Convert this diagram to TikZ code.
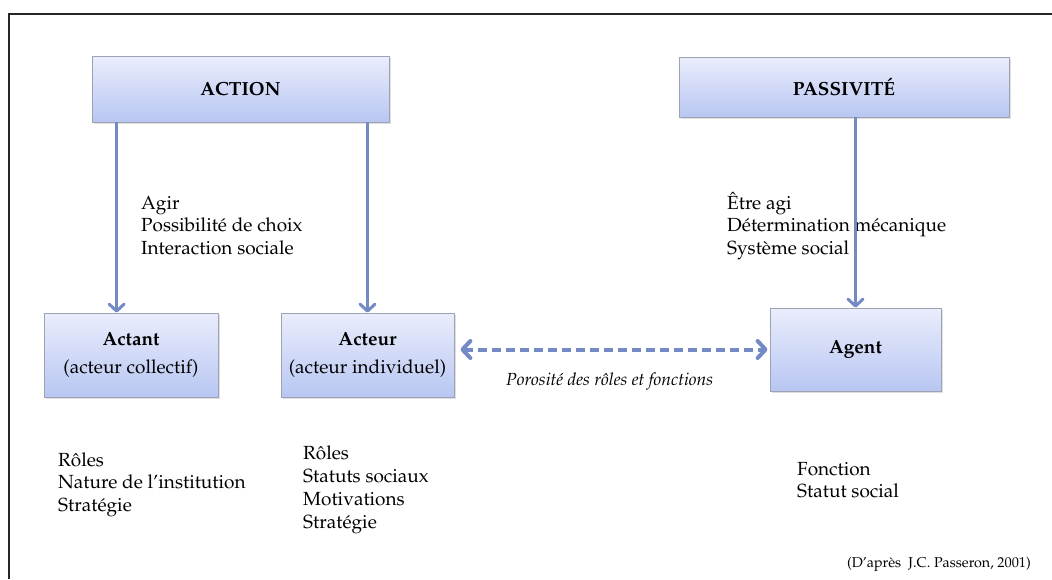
\documentclass[tikz,border=0pt]{standalone}
\usepackage[T1]{fontenc}
\usepackage{mathpazo}
\usepackage{tikz}
\usetikzlibrary{arrows.meta,shadows}
\definecolor{boxtop}{RGB}{234,237,252}
\definecolor{boxbot}{RGB}{184,198,242}
\definecolor{boxline}{RGB}{158,163,180}
\definecolor{arrblue}{RGB}{116,138,196}
\tikzset{
	pole/.style = {shape=rectangle, draw=boxline, line width=0.8pt, align=center, top color=boxtop, bottom color=boxbot, drop shadow={opacity=0.25, shadow xshift=2pt, shadow yshift=-2pt}, font=\fontsize{19}{22}\selectfont\bfseries},
	figure/.style = {pole, font=\fontsize{19}{22}\selectfont},
	traits/.style = {align=left, inner sep=0pt, anchor=base west, font=\fontsize{19}{22.8}\selectfont},
	arr/.style = {draw=arrblue, line width=3pt, -{Straight Barb[length=7pt, width=15pt, round]}},
	dasharr/.style = {draw=arrblue, line width=4pt, dash pattern=on 9pt off 5pt, {Straight Barb[length=8pt, width=17pt, round]}-{Straight Barb[length=8pt, width=17pt, round]}},
}
\begin{document}
\begin{tikzpicture}[x=1pt, y=-1pt]
		\useasboundingbox (0,0) rectangle (1052,579);
		\draw[line width=1.6pt, black!85] (9,579) -- (9,14) -- (1052,14);

		\node[pole, minimum width=297pt, minimum height=66pt] (action) at (240.5, 89) {ACTION};
		\node[pole, minimum width=330pt, minimum height=60pt] (passiv) at (844, 87) {PASSIVIT\'E};

		\node[figure, minimum width=174pt, minimum height=84pt] (actant) at (131, 355) {\textbf{Actant}\\[6pt](acteur collectif)};
		\node[figure, minimum width=173pt, minimum height=84pt] (acteur) at (367.5, 355) {\textbf{Acteur}\\[6pt](acteur individuel)};
		\node[pole, minimum width=171pt, minimum height=83pt] (agent) at (855.5, 349.5) {Agent};

		\node[traits] (agir) at (141, 254.6) {Agir\\Possibilit\'e de choix\\Interaction sociale};
		\node[traits] (agi) at (727, 254.6) {\^Etre agi\\D\'etermination m\'ecanique\\Syst\`eme social};

		\node[traits] (t-actant) at (58, 511.6) {R\^oles\\Nature de l'institution\\Strat\'egie};
		\node[traits, font=\fontsize{19}{23.2}\selectfont] (t-acteur) at (303, 528.6) {R\^oles\\Statuts sociaux\\Motivations\\Strat\'egie};
		\node[traits] (t-agent) at (797, 497.8) {Fonction\\Statut social};

		\node[traits, font=\fontsize{17.5}{20}\selectfont\itshape] (poros) at (506, 385) {Porosit\'e des r\^oles et fonctions};
		\node[traits, anchor=base east, font=\fontsize{14.3}{16}\selectfont] (source) at (1031, 567) {(D'apr\`es \ J.C. Passeron, 2001)};

		\draw[arr] ([xshift=25pt]action.south west) -- ([xshift=25pt]action.south west |- actant.north);
		\draw[arr] (action.south -| acteur.north) -- (acteur.north);
		\draw[arr] (passiv.south -| agent.north) -- (agent.north);
		\draw[dasharr, shorten <=6pt, shorten >=2pt] (acteur.east |- agent.west) -- (agent.west);
	\end{tikzpicture}
\end{document}
